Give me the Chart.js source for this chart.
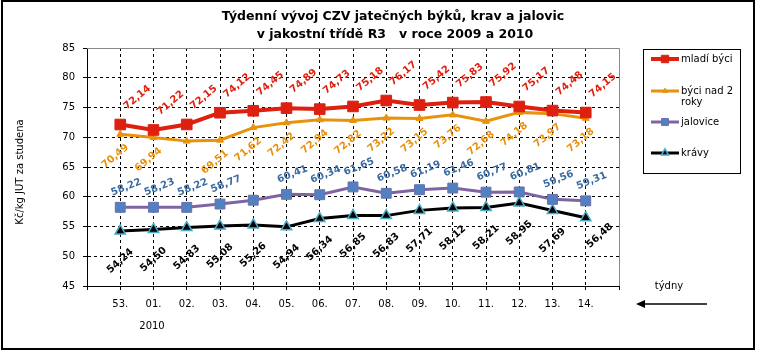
<!DOCTYPE html>
<html>
<head>
<meta charset="utf-8">
<script src="https://cdn.jsdelivr.net/npm/chart.js@4.4.0/dist/chart.umd.min.js"></script>
<style>
html, body { margin: 0; padding: 0; background: #fff; }
canvas { display: block; }
</style>
</head>
<body>
<canvas id="chart" width="758" height="352" style="width:758px;height:352px"></canvas>
<script>
var weeks = ['53.', '01.', '02.', '03.', '04.', '05.', '06.', '07.', '08.', '09.', '10.', '11.', '12.', '13.', '14.'];
var mladiByci = [72.14, 71.22, 72.15, 74.12, 74.45, 74.89, 74.73, 75.18, 76.17, 75.42, 75.83, 75.92, 75.17, 74.48, 74.15];
var byciNad2 = [70.49, 69.94, 69.35, 69.51, 71.62, 72.42, 72.94, 72.82, 73.22, 73.15, 73.76, 72.68, 74.18, 73.97, 73.18];
var jalovice = [58.22, 58.23, 58.22, 58.77, 59.42, 60.41, 60.34, 61.65, 60.58, 61.19, 61.46, 60.77, 60.81, 59.56, 59.31];
var kravy = [54.24, 54.50, 54.83, 55.08, 55.26, 54.94, 56.34, 56.85, 56.83, 57.71, 58.12, 58.21, 58.95, 57.69, 56.48];
var yTicks = [45, 50, 55, 60, 65, 70, 75, 80, 85];

var FONT = '"DejaVu Sans", Verdana, sans-serif';

function toPoints(arr) {
    return arr.map(function (v, i) { return { x: i, y: v }; });
}

// labels / title / legend drawn on the canvas
var extrasPlugin = {
    id: 'extras',
    beforeDatasetsDraw: function (chart) {
        var ctx = chart.ctx, a = chart.chartArea;
        ctx.save();
        ctx.strokeStyle = '#888';
        ctx.lineWidth = 1;
        ctx.beginPath();
        ctx.moveTo(a.left, a.top + 0.5);
        ctx.lineTo(a.right + 0.5, a.top + 0.5);
        ctx.lineTo(a.right + 0.5, a.bottom);
        ctx.stroke();
        ctx.restore();
    },
    afterDatasetsDraw: function (chart, args, opts) {
        var ctx = chart.ctx;
        chart.data.datasets.forEach(function (ds, di) {
            var st = opts.labels[di];
            var meta = chart.getDatasetMeta(di);
            meta.data.forEach(function (pt, i) {
                if (st.hide && st.hide.indexOf(i) >= 0) return;
                var off = (st.moved && st.moved[i]) || [st.dx, st.dy];
                var txt = ds.data[i].y.toFixed(2).replace('.', ',');
                ctx.save();
                ctx.translate(pt.x + off[0], pt.y + off[1]);
                ctx.rotate(st.angle * Math.PI / 180);
                ctx.font = 'bold 10px ' + FONT;
                ctx.fillStyle = st.color;
                ctx.textAlign = 'center';
                ctx.textBaseline = 'middle';
                ctx.fillText(txt, 0, 0);
                ctx.restore();
            });
        });
    },
    afterDraw: function (chart) {
        var ctx = chart.ctx;
        ctx.save();
        // outer frame
        ctx.strokeStyle = '#000';
        ctx.lineWidth = 2;
        ctx.strokeRect(2, 1, 752, 348);

        // title
        ctx.fillStyle = '#000';
        ctx.textAlign = 'center';
        ctx.textBaseline = 'middle';
        ctx.font = 'bold 12.5px ' + FONT;
        ctx.fillText('Týdenní vývoj CZV jatečných býků, krav a jalovic', 393, 17);
        ctx.fillText('v jakostní třídě R3   v roce 2009 a 2010', 395, 35);

        // y axis title
        ctx.font = '10px ' + FONT;
        ctx.save();
        ctx.translate(20, 172);
        ctx.rotate(-Math.PI / 2);
        ctx.fillText('Kč/kg JUT za studena', 0, 0);
        ctx.restore();

        // year and x axis note
        ctx.fillText('2010', 152, 326);
        ctx.fillText('týdny', 669, 286);

        // arrow
        ctx.lineWidth = 1.5;
        ctx.beginPath();
        ctx.moveTo(707, 304);
        ctx.lineTo(642, 304);
        ctx.stroke();
        ctx.beginPath();
        ctx.moveTo(636, 304);
        ctx.lineTo(645, 300);
        ctx.lineTo(645, 308);
        ctx.closePath();
        ctx.fill();

        // legend
        ctx.lineWidth = 1;
        ctx.strokeStyle = '#000';
        ctx.strokeRect(643.5, 49.5, 97, 124);
        var rows = [[59], [91, 'roky'], [122], [153]];
        chart.data.datasets.forEach(function (ds, di) {
            var y = rows[di][0];
            ctx.strokeStyle = ds.borderColor;
            ctx.lineWidth = ds.borderWidth;
            ctx.beginPath();
            ctx.moveTo(651, y);
            ctx.lineTo(679, y);
            ctx.stroke();
            ctx.fillStyle = ds.pointBackgroundColor;
            ctx.strokeStyle = ds.pointBorderColor;
            ctx.lineWidth = ds.pointBorderWidth;
            Chart.helpers.drawPoint(ctx, { pointStyle: ds.pointStyle, radius: ds.pointRadius * 0.7, rotation: 0, borderWidth: ds.pointBorderWidth }, 665, y);
            ctx.fillStyle = '#000';
            ctx.textAlign = 'left';
            ctx.font = '10px ' + FONT;
            ctx.fillText(ds.label, 681, y);
            if (rows[di][1]) ctx.fillText(rows[di][1], 681, y + 11);
        });
        ctx.restore();
    }
};

new Chart(document.getElementById('chart').getContext('2d'), {
    type: 'line',
    data: {
        datasets: [
            {
                label: 'mladí býci',
                data: toPoints(mladiByci),
                borderColor: '#DE2010',
                borderWidth: 4,
                pointStyle: 'rect',
                pointRadius: 7.5,
                pointBackgroundColor: '#DE2010',
                pointBorderColor: '#DE2010',
                pointBorderWidth: 1
            },
            {
                label: 'býci nad 2',
                data: toPoints(byciNad2),
                borderColor: '#E8930C',
                borderWidth: 3,
                pointStyle: 'triangle',
                pointRadius: 4,
                pointBackgroundColor: '#E8930C',
                pointBorderColor: '#E8930C',
                pointBorderWidth: 1
            },
            {
                label: 'jalovice',
                data: toPoints(jalovice),
                borderColor: '#8064A2',
                borderWidth: 3,
                pointStyle: 'rect',
                pointRadius: 7,
                pointBackgroundColor: '#5181C0',
                pointBorderColor: '#6A70B0',
                pointBorderWidth: 1
            },
            {
                label: 'krávy',
                data: toPoints(kravy),
                borderColor: '#000000',
                borderWidth: 3,
                pointStyle: 'triangle',
                pointRadius: 6,
                pointBackgroundColor: '#000000',
                pointBorderColor: '#4BACC6',
                pointBorderWidth: 1.5
            }
        ]
    },
    options: {
        responsive: false,
        animation: false,
        layout: { padding: { top: 48, right: 139, left: 0, bottom: 0 } },
        plugins: {
            legend: { display: false },
            tooltip: { enabled: false },
            extras: {
                labels: [
                    { color: '#E0200F', dx: 17, dy: -27, angle: -40 },
                    { color: '#E8900A', dx: -5, dy: 22, angle: -40, hide: [2] },
                    { color: '#3A6BA3', dx: 6, dy: -20, angle: -22, hide: [4] },
                    { color: '#000000', dx: 0, dy: 30, angle: -42, moved: { 14: [14, 18] } }
                ]
            }
        },
        elements: { line: { tension: 0 } },
        scales: {
            x: {
                type: 'linear',
                min: -1,
                max: 15,
                afterFit: function (s) { s.height = 66; },
                afterBuildTicks: function (s) {
                    var t = [];
                    for (var i = -1; i <= 15; i++) t.push({ value: i });
                    s.ticks = t;
                },
                ticks: {
                    autoSkip: false,
                    maxRotation: 0,
                    padding: 8,
                    color: '#000',
                    font: { family: FONT, size: 10 },
                    callback: function (v) { return weeks[v] || ''; }
                },
                grid: {
                    color: function (c) {
                        var v = c.tick ? c.tick.value : null;
                        return (v === -1 || v === 15) ? 'rgba(0,0,0,0)' : '#000';
                    },
                    tickColor: '#000',
                    tickLength: 4,
                    lineWidth: 1
                },
                border: { display: true, color: '#000', width: 1, dash: [3, 3] }
            },
            y: {
                min: 45,
                max: 85,
                afterFit: function (s) { s.width = 87; },
                afterBuildTicks: function (s) {
                    s.ticks = yTicks.map(function (v) { return { value: v }; });
                },
                ticks: {
                    padding: 8,
                    color: '#000',
                    font: { family: FONT, size: 10 }
                },
                grid: {
                    color: function (c) {
                        var v = c.tick ? c.tick.value : null;
                        return (v === 45 || v === 85) ? 'rgba(0,0,0,0)' : '#000';
                    },
                    tickColor: '#000',
                    tickLength: 4,
                    lineWidth: 1
                },
                border: { display: true, color: '#000', width: 1, dash: [3, 3] }
            }
        }
    },
    plugins: [extrasPlugin]
});
</script>
</body>
</html>
